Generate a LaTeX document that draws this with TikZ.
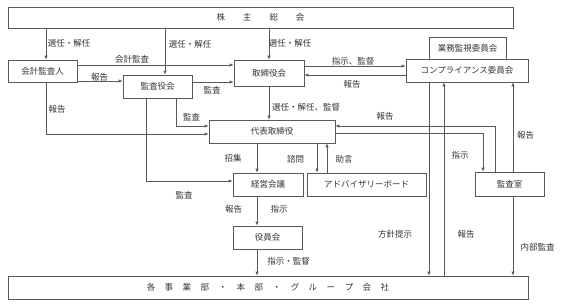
\documentclass[tikz,border=0pt]{standalone}
\usepackage{fontspec}
\setmainfont{Noto Sans CJK JP}
\usepackage{tikz}
\usetikzlibrary{arrows.meta,calc}

\begin{document}
\begin{tikzpicture}[x=1pt, y=-1pt, line width=0.6pt,
  box/.style={draw=black!65, inner sep=0pt, text=black!80, font=\fontsize{8.5}{10}\selectfont},
  lbl/.style={inner sep=0pt, text=black!80, font=\fontsize{8.5}{10}\selectfont},
  arr/.style={draw=black!65, -{Latex[length=4pt,width=3.2pt]}}]
\useasboundingbox (0,0) rectangle (562,303);
% boxes, top to bottom
\node[box, minimum width=505pt, minimum height=21pt] (soukai) at (260.5,17.5) {株\hspace{18pt}主\hspace{18pt}総\hspace{18pt}会};
\node[box, minimum width=69pt, minimum height=22pt] (kaikei) at (42.5,71) {会計監査人};
\node[box, minimum width=69pt, minimum height=23pt] (kansayaku) at (157.5,86.5) {監査役会};
\node[box, minimum width=70pt, minimum height=26pt] (torishimari) at (269,73) {取締役会};
\node[box, minimum width=77pt, minimum height=22pt] (gyomu) at (467.5,48) {業務監視委員会};
\node[box, minimum width=122pt, minimum height=23pt] (comp) at (467,70.5) {コンプライアンス委員会};
\node[box, minimum width=126pt, minimum height=23pt] (daihyo) at (272,131.5) {代表取締役};
\node[box, minimum width=70pt, minimum height=23pt] (keiei) at (268,184.5) {経営会議};
\node[box, minimum width=119pt, minimum height=23pt] (advisory) at (366.5,184.5) {アドバイザリーボード};
\node[box, minimum width=69pt, minimum height=24pt] (kansashitsu) at (509.5,184) {監査室};
\node[box, minimum width=69pt, minimum height=23pt] (yakuin) at (267.5,237.5) {役員会};
\node[box, minimum width=520pt, minimum height=23pt] (jigyo) at (268,287.5) {各\hspace{9.5pt}事\hspace{9.5pt}業\hspace{9.5pt}部\hspace{9.5pt}・\hspace{9.5pt}本\hspace{9.5pt}部\hspace{9.5pt}・\hspace{9.5pt}グ\hspace{9.5pt}ル\hspace{9.5pt}ー\hspace{9.5pt}プ\hspace{9.5pt}会\hspace{9.5pt}社};
% shareholders' meeting
\draw[arr] ([xshift=3.5pt]kaikei.north |- soukai.south) -- ([xshift=3.5pt]kaikei.north);
\draw[arr] ([xshift=7.5pt]kansayaku.north |- soukai.south) -- ([xshift=7.5pt]kansayaku.north);
\draw[arr] (torishimari.north |- soukai.south) -- (torishimari.north);
\node[lbl] (lsen1) at (69,43) {選任・解任};
\node[lbl] (lsen2) at (190,44) {選任・解任};
\node[lbl] (lsen3) at (290,43) {選任・解任};
% auditors
\draw[arr] ([yshift=6pt]kaikei.east) -- ([yshift=6pt]kaikei.east -| torishimari.west);
\draw[arr] ([yshift=-10pt]kaikei.east) -- ([yshift=-10pt]kaikei.east -| kansayaku.west);
\draw[arr] ([yshift=4.5pt]kansayaku.east) -- ([yshift=4.5pt]kansayaku.east -| torishimari.west);
\draw[arr] ([xshift=18.5pt]kansayaku.south) |- ([yshift=5.5pt]daihyo.west);
\draw[arr] ([xshift=3.5pt]kaikei.south) |- ([yshift=-2.5pt]daihyo.west);
\draw[arr] ([xshift=-11.5pt]kansayaku.south) |- ([yshift=3.5pt]keiei.west);
\node[lbl] (lkaikei) at (132,59) {会計監査};
\node[lbl] (lhoukoku1) at (99.5,77) {報告};
\node[lbl] (lkansa1) at (212,90) {監査};
\node[lbl] (lkansa2) at (191.5,117) {監査};
\node[lbl] (lhoukoku2) at (57,109) {報告};
\node[lbl] (lkansa3) at (184,195) {監査};
% board and representative director
\draw[arr] (torishimari.south) -- (torishimari.south |- daihyo.north);
\draw[arr] ([yshift=7pt]torishimari.east) -- ([yshift=7pt]torishimari.east -| comp.west);
\draw[arr] ([yshift=-2pt]torishimari.east -| comp.west) -- ([yshift=-2pt]torishimari.east);
\node[lbl] (lsen4) at (306,107) {選任・解任、監督};
\node[lbl] (lshiji1) at (353,61) {指示、監督};
\node[lbl] (lhoukoku3) at (352,84) {報告};
\draw[arr] ([xshift=-11pt]keiei.north |- daihyo.south) -- ([xshift=-11pt]keiei.north);
\draw[arr] ([xshift=-49.5pt]advisory.north |- daihyo.south) -- ([xshift=-49.5pt]advisory.north);
\draw[arr] ([xshift=-39.5pt]advisory.north) -- ([xshift=-39.5pt]advisory.north |- daihyo.south);
\node[lbl] (lshoushu) at (233,158) {招集};
\node[lbl] (lshimon) at (295.5,159) {諮問};
\node[lbl] (ljogen) at (344,159) {助言};
\draw[arr] ([xshift=-11pt]keiei.south) -- ([xshift=-11pt]keiei.south |- yakuin.north);
\draw[arr] ([xshift=-10.5pt]yakuin.south) -- ([xshift=-10.5pt]yakuin.south |- jigyo.north);
\node[lbl] (lhoukoku4) at (233.5,209) {報告};
\node[lbl] (lshiji2) at (279,209) {指示};
\node[lbl] (lshiji3) at (288.5,261) {指示・監督};
% internal audit office and compliance
\draw[arr] ([xshift=-14.5pt]kansashitsu.north) |- ([yshift=5.5pt]daihyo.east);
\draw[arr] ([yshift=-1.5pt]daihyo.east) -| ([xshift=-26.5pt]kansashitsu.north);
\draw[arr] ([xshift=-38pt]comp.south) -- ([xshift=-38pt]comp.south |- jigyo.north);
\draw[arr] ([xshift=-23pt]comp.south |- jigyo.north) -- ([xshift=-23pt]comp.south);
\draw[arr] ([xshift=3.5pt]kansashitsu.north) -- ([xshift=3.5pt]kansashitsu.north |- comp.south);
\draw[arr] ([xshift=3.5pt]kansashitsu.south) -- ([xshift=3.5pt]kansashitsu.south |- jigyo.north);
\node[lbl] (lhoukoku5) at (385,116) {報告};
\node[lbl] (lshiji4) at (460,155) {指示};
\node[lbl] (lhoukoku6) at (525.5,135) {報告};
\node[lbl] (lhoushin) at (395,234) {方針提示};
\node[lbl] (lhoukoku7) at (466,234) {報告};
\node[lbl] (lnaibu) at (537.5,247) {内部監査};
\end{tikzpicture}
\end{document}
